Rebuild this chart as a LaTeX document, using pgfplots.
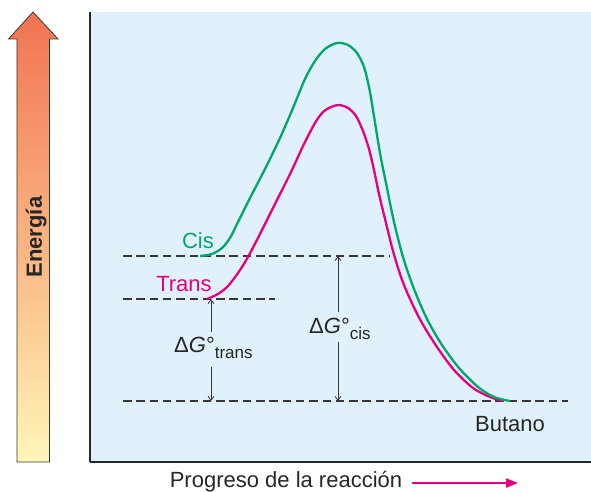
\documentclass[border=0pt]{standalone}
\usepackage{fontspec}
\setmainfont{Liberation Sans}
\usepackage{pgfplots}
\pgfplotsset{compat=1.18}
\usetikzlibrary{arrows.meta}

\definecolor{fondo}{RGB}{224,241,251}
\definecolor{verde}{RGB}{0,166,106}
\definecolor{magenta}{RGB}{230,0,126}
\definecolor{gris}{RGB}{55,55,55}
\definecolor{flechaarriba}{RGB}{241,115,82}
\definecolor{flechamedio}{RGB}{250,178,128}
\definecolor{flechaabajo}{RGB}{255,246,185}

\newcommand{\grande}{\fontsize{22}{26}\selectfont}
\newcommand{\chico}{\fontsize{17}{20}\selectfont}

\begin{document}
\begin{tikzpicture}
\begin{axis}[
    width=501pt, height=450pt, scale only axis,
    xmin=0, xmax=501, ymin=0, ymax=450,
    axis lines=left,
    axis line style={-, draw=black!85},
    x axis line style={line width=2.2pt},
    y axis line style={line width=1.6pt},
    ticks=none,
    clip=false,
    axis background/.style={fill=fondo},
]
% niveles de energia
\addplot[gris, line width=1.3pt, dash pattern=on 8.5pt off 4.8pt] coordinates {(33,206) (300,206)};
\addplot[gris, line width=1.3pt, dash pattern=on 8.5pt off 4.8pt] coordinates {(33,163) (185,163)};
\addplot[gris, line width=1.3pt, dash pattern=on 8.5pt off 4.8pt] coordinates {(33,61) (478,61)};

% trans
\addplot[magenta, line width=2.3pt, smooth, tension=0.5] coordinates {
    (117,163) (128,168) (138,176) (148,189) (158,205) (172,232) (186,260)
    (201,290) (214,318) (225,339) (233,350) (241,355) (249,357) (258,354)
    (266,346) (273,331) (279,313) (284,292) (289,268) (296,239) (303,211)
    (311,185) (320,163) (332,139) (347,115) (364,92) (383,74) (400,65) (413,61)
};
% cis
\addplot[verde, line width=2.3pt, smooth, tension=0.5] coordinates {
    (110,206) (122,208) (132,214) (140,224) (148,240) (160,264) (175,293)
    (190,324) (203,354) (215,383) (225,401) (235,413) (247,419) (258,417)
    (267,409) (274,395) (279,375) (283,352) (290,309) (297,274) (304,240)
    (313,205) (324,173) (337,143) (352,117) (369,94) (388,75) (404,65) (420,61)
};

% flechas de Delta G
\addplot[gris, line width=0.8pt, -{Straight Barb[length=4pt,width=6pt]}] coordinates {(121,130) (121,163)};
\addplot[gris, line width=0.8pt, -{Straight Barb[length=4pt,width=6pt]}] coordinates {(121,95) (121,61)};
\addplot[gris, line width=0.8pt, -{Straight Barb[length=4pt,width=6pt]}] coordinates {(248,150) (248,206)};
\addplot[gris, line width=0.8pt, -{Straight Barb[length=4pt,width=6pt]}] coordinates {(248,120) (248,61)};

\node[anchor=base, text=verde, inner sep=0pt] at (axis cs:108,214) {\grande Cis};
\node[anchor=base, text=magenta, inner sep=0pt] at (axis cs:94,171) {\grande Trans};
\node[anchor=base, text=black!85, inner sep=0pt] at (axis cs:420,31) {\grande Butano};
\node[anchor=base west, text=black!85, inner sep=0pt] at (axis cs:84,110)
    {\grande Δ\textit{G}°\raisebox{-6pt}{\chico trans}};
\node[anchor=base west, text=black!85, inner sep=0pt] at (axis cs:219,129)
    {\grande Δ\textit{G}°\raisebox{-6pt}{\chico cis}};

% eje x
\node[anchor=base, text=black!85, inner sep=0pt] at (axis cs:196,-25) {\grande Progreso de la reacción};
\addplot[magenta, line width=2pt, -{Triangle[length=12pt,width=9pt]}] coordinates {(322,-21) (428,-21)};

% flecha de energia
\shade[top color=flechaarriba, bottom color=flechaabajo, middle color=flechamedio]
    (axis cs:-73,0) -- (axis cs:-73,423) -- (axis cs:-81.5,423) -- (axis cs:-57,450)
    -- (axis cs:-32,423) -- (axis cs:-40.5,423) -- (axis cs:-40.5,0) -- cycle;
\draw[gris, line width=0.8pt]
    (axis cs:-73,0) -- (axis cs:-73,423) -- (axis cs:-81.5,423) -- (axis cs:-57,450)
    -- (axis cs:-32,423) -- (axis cs:-40.5,423) -- (axis cs:-40.5,0) -- cycle;
\node[anchor=base, rotate=90, text=black!85, inner sep=0pt, font=\bfseries] at (axis cs:-48,225) {\grande Energía};

\coordinate (bl) at (axis cs:-90,-29);
\coordinate (tr) at (axis cs:501,462);
\end{axis}
\pgfresetboundingbox
\useasboundingbox (bl) rectangle (tr);
\end{tikzpicture}
\end{document}
